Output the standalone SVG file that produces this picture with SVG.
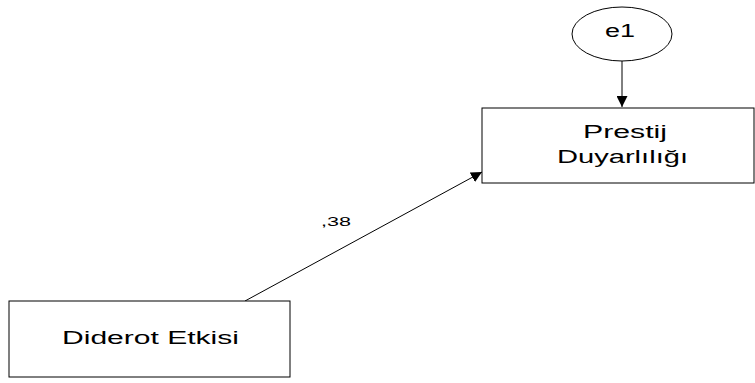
<svg xmlns="http://www.w3.org/2000/svg" width="755" height="383" viewBox="0 0 755 383">
  <style>
    .box { fill: #ffffff; stroke: #000000; stroke-width: 1; }
    .lbl { font-family: "Liberation Sans", Arial, sans-serif; font-size: 18px; fill: #000000; }
    .coef { font-family: "Liberation Sans", Arial, sans-serif; font-size: 13px; fill: #000000; }
    .edge { stroke: #000000; stroke-width: 1; fill: none; }
  </style>
  <defs>
    <marker id="arrow" viewBox="0 0 10 10" refX="10" refY="5" markerWidth="11" markerHeight="11" markerUnits="userSpaceOnUse" orient="auto">
      <path d="M0,0 L10,5 L0,10 Z" fill="#000000"/>
    </marker>
  </defs>
  <rect width="755" height="383" fill="#ffffff"/>

  <g id="connectors">
    <line class="edge" x1="622" y1="61" x2="622" y2="107" marker-end="url(#arrow)"/>
    <line class="edge" x1="245" y1="301" x2="482" y2="172" marker-end="url(#arrow)"/>
    <text class="coef" x="321" y="226" textLength="30" lengthAdjust="spacingAndGlyphs">,38</text>
  </g>

  <g id="e1">
    <ellipse class="box" cx="622" cy="34" rx="50" ry="27"/>
    <text class="lbl" x="605" y="37" font-size="17" textLength="30" lengthAdjust="spacingAndGlyphs">e1</text>
  </g>

  <g id="prestij-duyarliligi">
    <rect class="box" x="482" y="108" width="272" height="75"/>
    <text class="lbl" x="583" y="138" textLength="84" lengthAdjust="spacingAndGlyphs">Prestij</text>
    <text class="lbl" x="557" y="163" textLength="131" lengthAdjust="spacingAndGlyphs">Duyarlılığı</text>
  </g>

  <g id="diderot-etkisi">
    <rect class="box" x="9" y="301" width="281" height="76"/>
    <text class="lbl" x="62" y="344" textLength="177" lengthAdjust="spacingAndGlyphs">Diderot Etkisi</text>
  </g>
</svg>
